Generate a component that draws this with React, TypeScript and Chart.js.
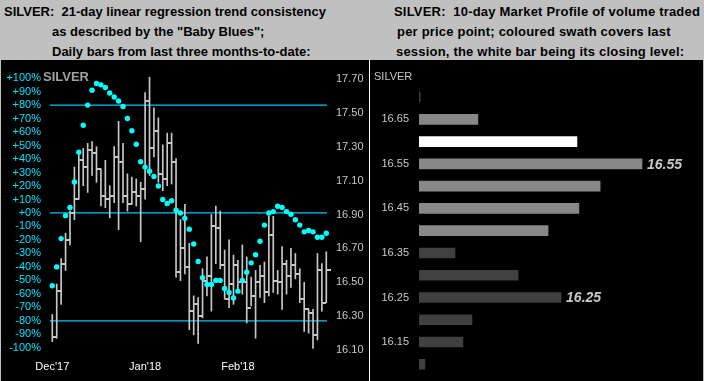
import React, { useEffect, useRef } from "react";
import { Chart, registerables } from "chart.js";

Chart.register(...registerables);

const FONT = '"Liberation Sans", Arial, Helvetica, sans-serif';

// ---------- Left panel data (daily bars, 63 sessions) ----------
const highs = [
  16.31, 16.49, 16.64, 16.79, 16.92, 17.18, 17.25, 17.29, 17.32, 17.33,
  17.30, 17.17, 17.22, 17.07, 17.30, 17.45, 17.32, 17.14, 17.12, 17.11,
  17.09, 17.62, 17.71, 17.53, 17.47, 17.31, 17.38, 17.38, 17.23, 16.87,
  16.96, 16.73, 16.42, 16.41, 16.58, 16.65, 16.90, 16.95, 16.92, 16.69,
  16.75, 16.66, 16.63, 16.72, 16.65, 16.53, 16.57, 16.60, 16.62, 16.89,
  16.89, 16.57, 16.71, 16.63, 16.70, 16.67, 16.58, 16.50, 16.34, 16.34,
  16.67, 16.61, 16.68,
];
const lows = [
  16.15, 16.17, 16.37, 16.57, 16.72, 16.87, 16.99, 17.07, 17.03, 17.13,
  17.09, 16.95, 16.94, 16.88, 16.97, 16.81, 16.97, 16.92, 16.96, 16.95,
  16.74, 16.99, 17.13, 17.24, 17.09, 17.04, 17.07, 17.08, 16.53, 16.51,
  16.55, 16.22, 16.19, 16.14, 16.29, 16.42, 16.33, 16.61, 16.58, 16.40,
  16.35, 16.37, 16.45, 16.43, 16.26, 16.36, 16.17, 16.41, 16.38, 16.42,
  16.44, 16.43, 16.34, 16.43, 16.47, 16.52, 16.38, 16.21, 16.20, 16.11,
  16.16, 16.33, 16.38,
];
const closes = [
  16.18, 16.45, 16.61, 16.75, 16.91, 16.99, 17.22, 17.18, 17.28, 17.26,
  17.17, 17.01, 16.99, 17.01, 17.24, 17.21, 17.01, 16.96, 17.03, 17.01,
  17.05, 17.57, 17.29, 17.39, 17.14, 17.11, 17.32, 17.21, 16.56, 16.70,
  16.59, 16.33, 16.37, 16.30, 16.51, 16.54, 16.83, 16.82, 16.60, 16.40,
  16.49, 16.60, 16.50, 16.50, 16.35, 16.42, 16.50, 16.54, 16.44, 16.78,
  16.51, 16.50, 16.61, 16.54, 16.60, 16.55, 16.40, 16.34, 16.32, 16.19,
  16.57, 16.38, 16.57,
];
// "Baby Blues": 21-day linear regression trend consistency (%)
const trendPct = [
  -54, -40, -19, -2, 4, 23, 45, 65, 80, 91,
  96, 95, 93, 89, 86, 83, 79, 70, 61, 51,
  38, 34, 31, 27, 20, 10, 7, 9, 2, 0,
  -4, -12, -23, -36, -48, -53, -53, -50, -50, -56,
  -59, -63, -58, -50, -44, -37, -31, -21, -9, 0,
  1, 5, 4, 1, -1, -5, -9, -14, -13, -14,
  -18, -18, -15,
];
const xTickBars = [1, 22, 43];
const xTickLabels = ["Dec'17", "Jan'18", "Feb'18"];
const priceTicks = [16.1, 16.3, 16.5, 16.7, 16.9, 17.1, 17.3, 17.5, 17.7];
const pctTicks = [
  -100, -90, -80, -70, -60, -50, -40, -30, -20, -10, 0,
  10, 20, 30, 40, 50, 60, 70, 80, 90, 100,
];
const refLevels = [80, 0, -80];

// axis bounds
const X_MIN = 0.48;
const X_MAX = 63.16;
const PCT_MIN = -105.33;
const PCT_MAX = 109.72;
const PRICE_MIN = 16.071;
const PRICE_MAX = 17.782;

// ---------- Right panel data (10-day market profile) ----------
const profileLevels = [
  "16.70", "16.65", "16.60", "16.55", "16.50", "16.45", "16.40",
  "16.35", "16.30", "16.25", "16.20", "16.15", "16.10",
];
const profileVolume = [0.4, 20.8, 55.8, 78.8, 64.0, 56.5, 45.6, 12.7, 35.0, 50.2, 18.7, 15.5, 2.1];
const profileRole = [
  "prior", "session", "close", "session", "session", "session", "session",
  "prior", "prior", "prior", "prior", "prior", "prior",
];
const profileMarked = ["16.55", "16.25"];

const roleColor: Record<string, string> = {
  prior: "#404040",
  session: "#888888",
  close: "#ffffff",
};

function makeCloseTick(): HTMLCanvasElement {
  const c = document.createElement("canvas");
  c.width = 9;
  c.height = 2;
  const g = c.getContext("2d")!;
  g.fillStyle = "#c8c8c8";
  g.fillRect(5, 0, 4, 2);
  return c;
}

const markLabelsPlugin = {
  id: "markLabels",
  afterDatasetsDraw(chart: any) {
    const { ctx } = chart;
    const meta = chart.getDatasetMeta(0);
    ctx.save();
    ctx.font = `italic bold 14px ${FONT}`;
    ctx.fillStyle = "#c8c8c8";
    ctx.textBaseline = "middle";
    ctx.textAlign = "left";
    profileMarked.forEach((lvl) => {
      const i = profileLevels.indexOf(lvl);
      const el = meta.data[i];
      if (el) ctx.fillText(lvl, el.x + 5, el.y + 1);
    });
    ctx.restore();
  },
};

function LeftChart() {
  const ref = useRef<HTMLCanvasElement>(null);
  useEffect(() => {
    const idx = closes.map((_, i) => i + 1);
    const tick = makeCloseTick();
    const refDatasets = refLevels.map((v) => ({
      type: "line",
      label: "ref" + v,
      data: [
        { x: X_MIN, y: v },
        { x: X_MAX, y: v },
      ],
      yAxisID: "yPct",
      xAxisID: "x",
      borderColor: "#00c8ff",
      borderWidth: 1.2,
      pointRadius: 0,
      fill: false,
      order: 3,
    }));
    const chart = new Chart(ref.current!, {
      type: "bar",
      data: {
        datasets: [
          {
            type: "scatter",
            label: "trend",
            data: idx.map((x, i) => ({ x, y: trendPct[i] })),
            yAxisID: "yPct",
            xAxisID: "x",
            pointRadius: 2.7,
            pointStyle: "circle",
            backgroundColor: "#00ffff",
            borderWidth: 0,
            order: 0,
            clip: false,
          } as any,
          {
            type: "scatter",
            label: "close",
            data: idx.map((x, i) => ({ x, y: closes[i] })),
            yAxisID: "y",
            xAxisID: "x",
            pointRadius: 3,
            pointStyle: tick,
            order: 1,
            clip: false,
          } as any,
          {
            type: "bar",
            label: "range",
            data: idx.map((x, i) => ({ x, y: [lows[i], highs[i]] })),
            yAxisID: "y",
            xAxisID: "x",
            barThickness: 1,
            backgroundColor: "#c8c8c8",
            borderWidth: 0,
            order: 2,
            clip: false,
          } as any,
          ...(refDatasets as any[]),
        ],
      },
      options: {
        responsive: false,
        animation: false,
        events: [],
        layout: { padding: { top: 2, bottom: 0, left: 0, right: 0 } },
        plugins: { legend: { display: false }, tooltip: { enabled: false } },
        scales: {
          x: {
            type: "linear",
            position: "bottom",
            min: X_MIN,
            max: X_MAX,
            offset: false,
            bounds: "data",
            grid: { display: false, drawTicks: false },
            border: { display: false },
            ticks: {
              color: "#ffffff",
              font: { family: FONT, size: 11 },
              padding: 5,
              autoSkip: false,
              maxRotation: 0,
              callback: (v: any) => {
                const k = xTickBars.indexOf(Number(v));
                return k >= 0 ? xTickLabels[k] : "";
              },
            },
            afterBuildTicks: (s: any) => {
              s.ticks = xTickBars.map((v) => ({ value: v }));
            },
            afterFit: (s: any) => {
              s.height = 26;
              s.paddingLeft = 0;
              s.paddingRight = 0;
            },
          },
          y: {
            type: "linear",
            position: "right",
            min: PRICE_MIN,
            max: PRICE_MAX,
            bounds: "data",
            grid: { display: false, drawTicks: false },
            border: { display: false },
            ticks: {
              color: "#c8c8c8",
              font: { family: FONT, size: 11 },
              padding: 9,
              autoSkip: false,
              callback: (v: any) => Number(v).toFixed(2),
            },
            afterBuildTicks: (s: any) => {
              s.ticks = priceTicks.map((v) => ({ value: v }));
            },
            afterFit: (s: any) => {
              s.width = 41;
              s.paddingTop = 0;
              s.paddingBottom = 0;
            },
          },
          yPct: {
            type: "linear",
            position: "left",
            min: PCT_MIN,
            max: PCT_MAX,
            bounds: "data",
            grid: { display: false, drawTicks: false },
            border: { display: false },
            ticks: {
              color: "#00e5ff",
              font: { family: FONT, size: 11 },
              padding: 9,
              autoSkip: false,
              callback: (v: any) => (Number(v) >= 0 ? "+" : "") + Number(v) + "%",
            },
            afterBuildTicks: (s: any) => {
              s.ticks = pctTicks.map((v) => ({ value: v }));
            },
            afterFit: (s: any) => {
              s.width = 48;
              s.paddingTop = 0;
              s.paddingBottom = 0;
            },
          },
        },
      } as any,
    });
    return () => chart.destroy();
  }, []);
  return (
    <canvas
      ref={ref}
      width={366}
      height={321}
      style={{ position: "absolute", left: 2, top: 60, width: 366, height: 321 }}
    />
  );
}

function RightChart() {
  const ref = useRef<HTMLCanvasElement>(null);
  useEffect(() => {
    const chart = new Chart(ref.current!, {
      type: "bar",
      data: {
        labels: profileLevels,
        datasets: [
          {
            label: "volume",
            data: profileVolume,
            backgroundColor: profileRole.map((r) => roleColor[r]),
            borderWidth: 0,
            barThickness: 10,
          },
        ],
      },
      options: {
        indexAxis: "y",
        responsive: false,
        animation: false,
        events: [],
        layout: { padding: { top: 26, bottom: 5.6, left: 0, right: 0 } },
        plugins: { legend: { display: false }, tooltip: { enabled: false } },
        scales: {
          x: { display: false, min: 0, max: 100 },
          y: {
            position: "left",
            grid: { display: false, drawTicks: false },
            border: { display: false },
            ticks: {
              color: "#c8c8c8",
              font: { family: FONT, size: 11 },
              padding: 10,
              autoSkip: false,
              callback: (_v: any, i: number) => (i % 2 === 1 ? profileLevels[i] : ""),
            },
            afterFit: (s: any) => {
              s.width = 49;
              s.paddingTop = 0;
              s.paddingBottom = 0;
            },
          },
        },
      } as any,
      plugins: [markLabelsPlugin],
    });
    return () => chart.destroy();
  }, []);
  return (
    <canvas
      ref={ref}
      width={332}
      height={321}
      style={{ position: "absolute", left: 370, top: 60, width: 332, height: 321 }}
    />
  );
}

const headStyle: React.CSSProperties = {
  position: "absolute",
  fontFamily: FONT,
  fontWeight: "bold",
  fontSize: 13,
  lineHeight: "19.5px",
  color: "#000",
  whiteSpace: "pre",
};

export default function App() {
  return (
    <div
      style={{
        position: "fixed",
        left: 0,
        top: 0,
        width: 704,
        height: 381,
        background: "#c0c0c0",
        overflow: "hidden",
      }}
    >
      <div style={{ ...headStyle, left: 4, top: 2.4 }}>SILVER:  21-day linear regression trend consistency</div>
      <div style={{ ...headStyle, left: 52, top: 22 }}>as described by the "Baby Blues";</div>
      <div style={{ ...headStyle, left: 52, top: 41.5 }}>Daily bars from last three months-to-date:</div>

      <div style={{ ...headStyle, left: 394, top: 2.4, letterSpacing: "0.2px" }}>SILVER:  10-day Market Profile of volume traded</div>
      <div style={{ ...headStyle, left: 397, top: 22, letterSpacing: "0.2px" }}>per price point; coloured swath covers last</div>
      <div style={{ ...headStyle, left: 396, top: 41.5, letterSpacing: "0.2px" }}>session, the white bar being its closing level:</div>

      <div style={{ position: "absolute", left: 1, top: 60, width: 368, height: 321, background: "#000" }} />
      <div style={{ position: "absolute", left: 369, top: 60, width: 1, height: 321, background: "#ffffff" }} />
      <div style={{ position: "absolute", left: 370, top: 60, width: 333, height: 321, background: "#000" }} />

      <LeftChart />
      <RightChart />

      <div
        style={{
          position: "absolute",
          left: 43,
          top: 69.6,
          fontFamily: FONT,
          fontWeight: "bold",
          fontSize: 13,
          lineHeight: "13px",
          color: "#a0a0a0",
        }}
      >
        SILVER
      </div>
      <div
        style={{
          position: "absolute",
          left: 374,
          top: 70.6,
          fontFamily: FONT,
          fontSize: 11,
          lineHeight: "11px",
          color: "#c8c8c8",
        }}
      >
        SILVER
      </div>
    </div>
  );
}
